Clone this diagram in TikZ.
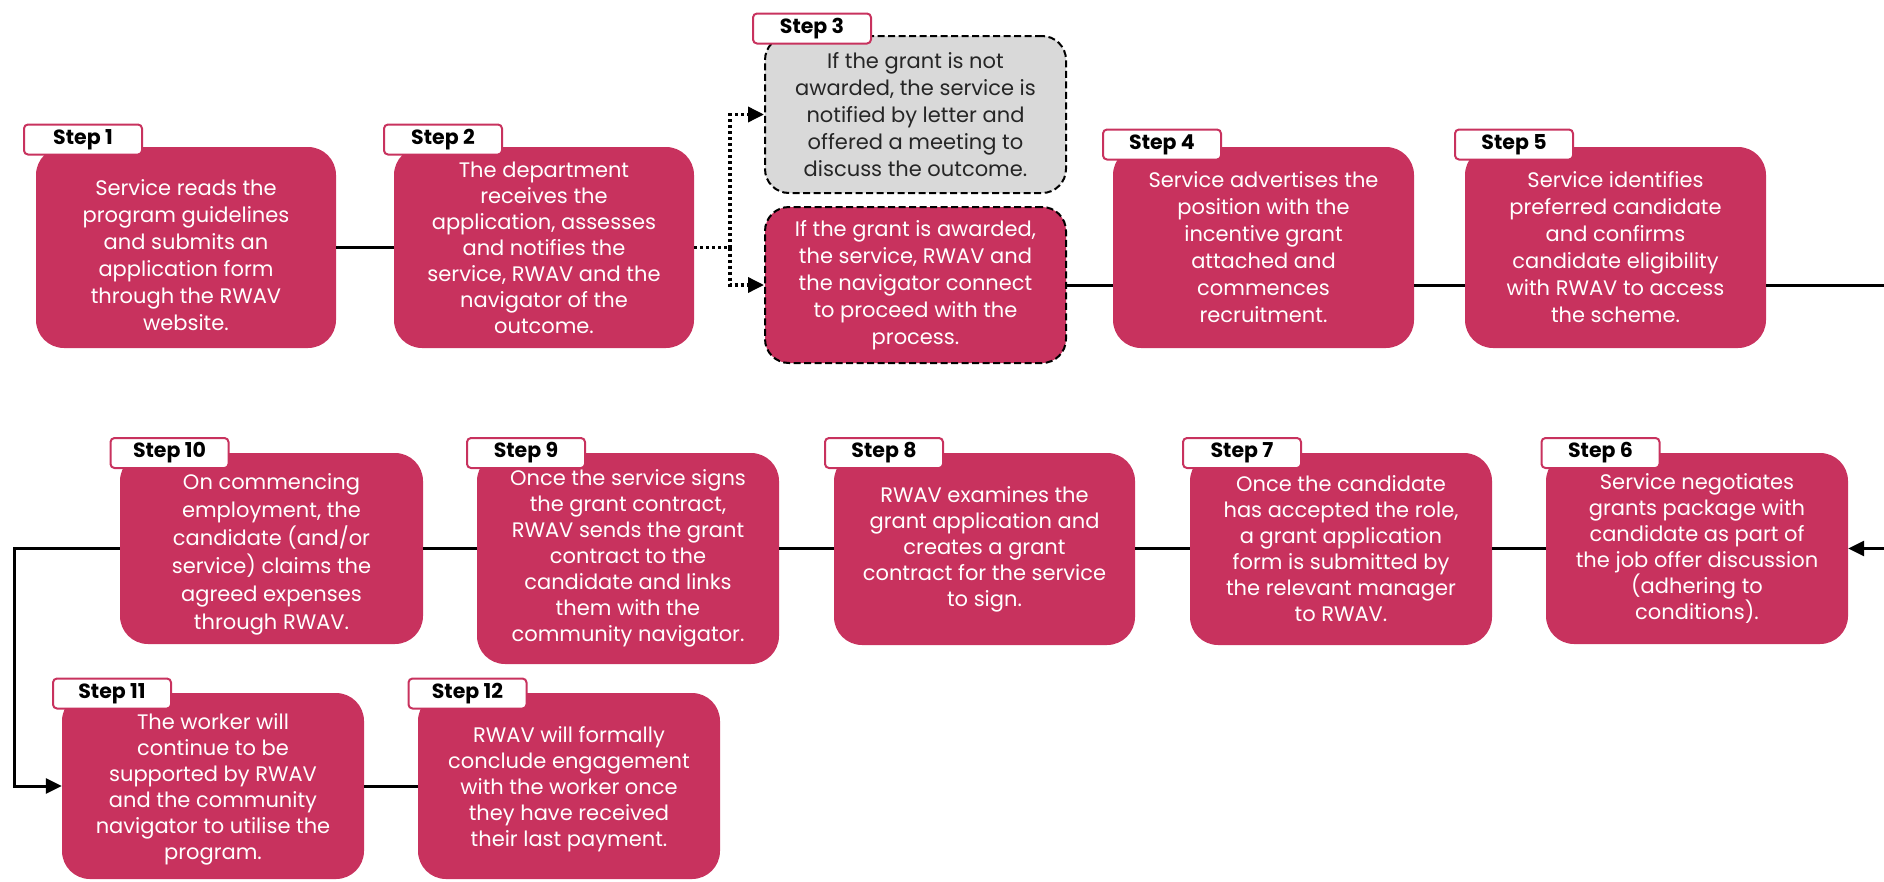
\documentclass[tikz,border=0pt]{standalone}
\usepackage{fontspec}
\setmainfont{Poppins}
\usetikzlibrary{arrows.meta}
\definecolor{pinkc}{RGB}{200,50,94}
\definecolor{greyc}{RGB}{217,217,217}
\begin{document}
\begin{tikzpicture}[x=1pt,y=-1pt,
  stepbox/.style={rectangle, rounded corners=28pt, fill=pinkc, text=white, align=center,
    font=\fontsize{21}{27}\selectfont, inner sep=0pt},
  decbox/.style={stepbox, draw=black, line width=2pt, dash pattern=on 7pt off 3.5pt, rounded corners=24pt},
  lab/.style={rectangle, rounded corners=4pt, draw=pinkc, line width=2pt, fill=white,
    minimum width=118pt, minimum height=30pt, font=\bfseries\fontsize{20.5}{20.5}\selectfont, inner sep=0pt},
  conn/.style={draw=black, line width=3pt},
  dotline/.style={draw=black, line width=3.5pt, dash pattern=on 3pt off 3pt},
  tip/.style={-{Triangle[length=16pt,width=15pt]}}
]
\useasboundingbox (0,0) rectangle (1884,881);

% Row 1
\node[stepbox, minimum width=300pt, minimum height=201pt] (s1) at (186,247.5)
  {\rule{0pt}{31pt}Service reads the\\program guidelines\\and submits an\\application form\\through the RWAV\\website.};
\node[stepbox, font=\fontsize{21}{26}\selectfont, minimum width=300pt, minimum height=201pt] (s2) at (544,247.5)
  {The department\\receives the\\application, assesses\\and notifies the\\service, RWAV and the\\navigator of the\\outcome.};
\node[decbox, fill=greyc, text=black!85, minimum width=301pt, minimum height=157pt] (s3a) at (915.5,114.5)
  {If the grant is not\\awarded, the service is\\notified by letter and\\offered a meeting to\\discuss the outcome.};
\node[decbox, minimum width=301pt, minimum height=156pt] (s3b) at (915.5,285)
  {If the grant is awarded,\\the service, RWAV and\\the navigator connect\\to proceed with the\\process.};
\node[stepbox, minimum width=301pt, minimum height=201pt] (s4) at (1263.5,247.5)
  {Service advertises the\\position with the\\incentive grant\\attached and\\commences\\recruitment.};
\node[stepbox, minimum width=301pt, minimum height=201pt] (s5) at (1615.5,247.5)
  {Service identifies\\preferred candidate\\and confirms\\candidate eligibility\\with RWAV to access\\the scheme.};

% Row 2
\node[stepbox, font=\fontsize{21}{26}\selectfont, minimum width=302pt, minimum height=191pt] (s6) at (1697,548.5)
  {Service negotiates\\grants package with\\candidate as part of\\the job offer discussion\\(adhering to\\conditions).};
\node[stepbox, font=\fontsize{21}{26}\selectfont, minimum width=302pt, minimum height=192pt] (s7) at (1341,549)
  {Once the candidate\\has accepted the role,\\a grant application\\form is submitted by\\the relevant manager\\to RWAV.};
\node[stepbox, font=\fontsize{21}{26}\selectfont, minimum width=301pt, minimum height=192pt] (s8) at (984.5,549)
  {RWAV examines the\\grant application and\\creates a grant\\contract for the service\\to sign.};
\node[stepbox, font=\fontsize{21}{26}\selectfont, minimum width=302pt, minimum height=211pt] (s9) at (628,558.5)
  {Once the service signs\\the grant contract,\\RWAV sends the grant\\contract to the\\candidate and links\\them with the\\community navigator.};
\node[stepbox, font=\fontsize{21}{28}\selectfont, minimum width=303pt, minimum height=191pt] (s10) at (271.5,548.5)
  {\rule{0pt}{28pt}On commencing\\employment, the\\candidate (and/or\\service) claims the\\agreed expenses\\through RWAV.};

% Row 3
\node[stepbox, font=\fontsize{21}{26}\selectfont, minimum width=302pt, minimum height=186pt] (s11) at (213,786)
  {\rule{0pt}{22pt}The worker will\\continue to be\\supported by RWAV\\and the community\\navigator to utilise the\\program.};
\node[stepbox, font=\fontsize{21}{26}\selectfont, minimum width=302pt, minimum height=186pt] (s12) at (569,786)
  {\rule{0pt}{22pt}RWAV will formally\\conclude engagement\\with the worker once\\they have received\\their last payment.};

% Labels
\node[lab] (l1) at (83,139.5) {Step 1};
\node[lab] (l2) at (443,139.5) {Step 2};
\node[lab] (l3) at (812,28.5) {Step 3};
\node[lab] (l4) at (1162,144.5) {Step 4};
\node[lab] (l5) at (1514,144.5) {Step 5};
\node[lab] (l6) at (1600.5,453) {Step 6};
\node[lab] (l7) at (1242,453) {Step 7};
\node[lab] (l8) at (884,453) {Step 8};
\node[lab] (l9) at (526,453) {Step 9};
\node[lab] (l10) at (169.5,453) {Step 10};
\node[lab] (l11) at (112,693.5) {Step 11};
\node[lab] (l12) at (467.5,693.5) {Step 12};

% Connectors
\draw[conn] (s1.east) -- (s2.west);
\draw[dotline] (s2.east) -- ++(36,0) coordinate (dj);
\draw[dotline, tip] (dj) |- (s3a.west);
\draw[dotline, tip] (dj) |- (s3b.west);
\draw[conn] (s3b.east) -- (s3b.east -| s4.west);
\draw[conn] (s3b.east -| s4.east) -- (s3b.east -| s5.west);
\coordinate (rout) at (1910,285);
\draw[conn, tip] (s3b.east -| s5.east) -- (rout) |- (s6.east);
\draw[conn] (s6.west) -- (s6.west -| s7.east);
\draw[conn] (s6.west -| s7.west) -- (s6.west -| s8.east);
\draw[conn] (s6.west -| s8.west) -- (s6.west -| s9.east);
\draw[conn] (s6.west -| s9.west) -- (s6.west -| s10.east);
\coordinate (lout) at (14,548.5);
\draw[conn, tip] (s10.west) -- (lout) |- (s11.west);
\draw[conn] (s11.east) -- (s12.west);
\end{tikzpicture}
\end{document}
